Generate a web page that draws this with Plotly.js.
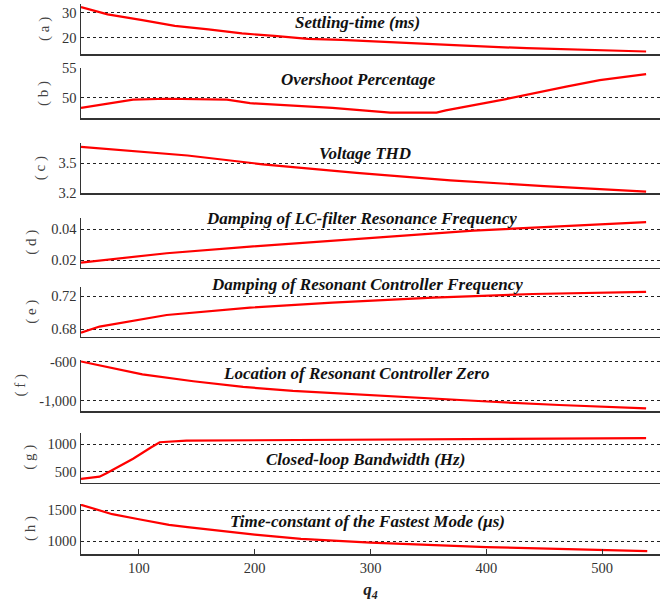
<!DOCTYPE html>
<html><head><meta charset="utf-8">
<script src="https://cdn.plot.ly/plotly-3.0.1.min.js"></script>
<style>html,body{margin:0;padding:0;background:#fff}</style>
</head><body><div id="chart" style="width:668px;height:606px"></div>
<script>
const qA = [50,73,103,131,160,189,217,246,275,291,319,377,435,491,538];
const settlingTime = [32.2,29.3,27.0,24.7,23.3,21.7,20.7,19.5,19.1,18.8,18.2,16.9,15.8,15.2,14.5];
const qB = [50,95,124,176,196,219,267,317,357,365,417,469,498,538];
const overshoot = [48.3,49.7,49.85,49.7,49.1,48.8,48.3,47.5,47.5,47.9,49.8,51.9,53.0,54.0];
const qC = [50,142,207,288,369,450,538];
const voltageTHD = [3.664,3.578,3.49,3.404,3.33,3.272,3.217];
const qD = [50,124,196,267,389,538];
const dampingLC = [0.0185,0.0245,0.0288,0.0326,0.0391,0.0445];
const qE = [50,66,124,196,267,354,440,538];
const dampingRC = [0.6755,0.683,0.697,0.706,0.712,0.718,0.7225,0.725];
const qF = [50,75,103,147,190,233,290,348,405,463,538];
const zeroLocation = [-600,-663,-731,-801,-859,-899,-938,-976,-1010,-1043,-1077];
const qG = [50,66,72,95,110,118,141,267,378,538];
const bandwidth = [367,409,470,735,935,1036,1066,1078,1100,1110];
const qH = [50,77,100,126,142,200,240,300,400,500,539];
const timeConstant = [1587,1435,1353,1262,1225,1105,1035,973,902,853,835];

const panelLabels = ['( a )','( b )','( c )','( d )','( e )','( f )','( g )','( h )'];
const panelTitles = ['Settling-time (ms)','Overshoot Percentage','Voltage THD',
  'Damping of LC-filter Resonance Frequency','Damping of Resonant Controller Frequency',
  'Location of Resonant Controller Zero','Closed-loop Bandwidth (Hz)',
  'Time-constant of the Fastest Mode (\u00b5s)'];
const tickVals = [[20,30],[50,55],[3.2,3.5],[0.02,0.04],[0.68,0.72],[-1000,-600],[500,1000],[1000,1500]];
const tickTexts = [['20','30'],['50','55'],['3.2','3.5'],['0.02','0.04'],['0.68','0.72'],['-1,000','-600'],['500','1000'],['1000','1500']];
const xTicks = [100,200,300,400,500];

const series = [[qA,settlingTime],[qB,overshoot],[qC,voltageTHD],[qD,dampingLC],
  [qE,dampingRC],[qF,zeroLocation],[qG,bandwidth],[qH,timeConstant]];

// layout geometry (pixels), styles
const W = 668, H = 606, ML = 81, MR = 8, MT = 0, MB = 52;
const PH = H - MT - MB, PW = W - ML - MR;
const panelPx = [[4,54],[68,118],[143,193.3],[218,267.7],[287,336.7],[360,411],[433,482.7],[504,554]];
const ranges = [[13.5,33.4],[46.6,55.05],[3.2,3.703],[0.0152,0.0472],[0.6707,0.731],[-1104,-585],[299,1205],[790,1600]];
const titlePx = [[357,22],[358,79],[365,154],[361,218],[367,284],[356,373],[365,459],[367,521]];
const labelX = [45,43,40,32,32,20,30,30];

const serif = '"Liberation Serif", "Times New Roman", "DejaVu Serif", serif';
const py = p => (PH - (p - MT)) / PH;
const px = p => (p - ML) / PW;

const traces = [];
const layout = {
  width: W, height: H, margin: {l: ML, r: MR, t: MT, b: MB},
  paper_bgcolor: '#fff', plot_bgcolor: '#fff', showlegend: false,
  font: {family: serif, size: 14, color: '#333'},
  annotations: []
};

series.forEach((s, i) => {
  const n = i === 0 ? '' : String(i + 1);
  traces.push({x: s[0], y: s[1], type: 'scatter', mode: 'lines',
    xaxis: 'x' + n, yaxis: 'y' + n,
    line: {color: '#ff0000', width: 2.2}, hoverinfo: 'skip'});
  const last = i === 7;
  const xa = {
    domain: [0, 1], anchor: 'y' + n, range: [50, 550],
    showgrid: false, zeroline: false, showline: true, linecolor: '#333', linewidth: 1.5,
    showticklabels: last, ticks: last ? 'inside' : '', ticklen: 5, tickcolor: '#333',
    tickvals: xTicks, tickfont: {family: serif, size: 14.5, color: '#333'}
  };
  if (last) xa.title = {text: '<b><i>q</i></b><sub><b><i>4</i></b></sub>', font: {family: serif, size: 17, color: '#222'}, standoff: 8};
  layout['xaxis' + n] = xa;
  layout['yaxis' + n] = {
    domain: [py(panelPx[i][1]), py(panelPx[i][0])], anchor: 'x' + n,
    range: ranges[i], showline: true, linecolor: '#333', linewidth: 1.5,
    zeroline: false, showgrid: true, gridcolor: '#222', gridwidth: 1, griddash: '3px,3px',
    tickvals: tickVals[i], ticktext: tickTexts[i], ticks: '',
    tickfont: {family: serif, size: 14.5, color: '#333'}
  };
  layout.annotations.push({
    text: '<b><i>' + panelTitles[i] + '</i></b>', xref: 'paper', yref: 'paper',
    x: px(titlePx[i][0]), y: py(titlePx[i][1]), xanchor: 'center', yanchor: 'middle',
    showarrow: false, font: {family: serif, size: 17, color: '#111'}
  });
  layout.annotations.push({
    text: panelLabels[i], xref: 'paper', yref: 'paper', textangle: -90,
    x: px(labelX[i]), y: py((panelPx[i][0] + panelPx[i][1]) / 2), xanchor: 'center', yanchor: 'middle',
    showarrow: false, font: {family: serif, size: 15, color: '#444'}
  });
});

Plotly.newPlot('chart', traces, layout, {displayModeBar: false, staticPlot: true});
</script></body></html>
